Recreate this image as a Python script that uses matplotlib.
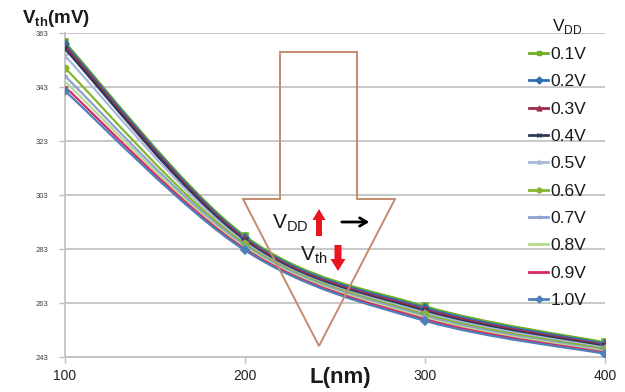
import numpy as np
import matplotlib.pyplot as plt
from matplotlib.path import Path
from matplotlib.patches import PathPatch, Polygon, FancyArrow
from matplotlib.lines import Line2D

plt.rcParams['font.family'] = ['Liberation Sans', 'DejaVu Sans']
plt.rcParams['mathtext.fontset'] = 'custom'
plt.rcParams['mathtext.rm'] = 'Liberation Sans'
plt.rcParams['mathtext.bf'] = 'Liberation Sans:bold'

# channel length (nm)
L = [100, 200, 300, 400]

# threshold voltage (mV) for each VDD
vdd_labels = ['0.1V', '0.2V', '0.3V', '0.4V', '0.5V', '0.6V', '0.7V', '0.8V', '0.9V', '1.0V']
v01 = [359.5, 287.8, 261.8, 248.4]
v02 = [358.8, 287.2, 261.2, 247.9]
v03 = [358.0, 286.6, 260.6, 247.4]
v04 = [357.0, 286.0, 260.0, 246.9]
v05 = [354.5, 285.4, 259.4, 246.4]
v06 = [350.0, 284.8, 258.8, 245.9]
v07 = [347.0, 284.2, 258.2, 245.4]
v08 = [345.0, 283.6, 257.6, 245.0]
v09 = [343.0, 283.0, 257.0, 244.6]
v10 = [341.5, 282.5, 256.4, 244.2]
series = [v01, v02, v03, v04, v05, v06, v07, v08, v09, v10]

colors = ['#6FAE22', '#2F6EB5', '#A02C4C', '#2A3A58', '#A8B8D8',
          '#84B62E', '#8E9ED2', '#B6DA8C', '#D8286A', '#4F7FB8']
markers = ['s', 'D', '^', 'x', '*', 'o', '+', '', '_', 'D']

yticks = [243, 263, 283, 303, 323, 343, 363]
xticks = [100, 200, 300, 400]

W, H = 625, 392


def smooth_path(xs, ys):
    # excel style smoothed line (catmull-rom as bezier)
    pts = np.column_stack([xs, ys]).astype(float)
    n = len(pts)
    verts = [pts[0]]
    codes = [Path.MOVETO]
    for i in range(n - 1):
        p0 = pts[max(i - 1, 0)]
        p1 = pts[i]
        p2 = pts[i + 1]
        p3 = pts[min(i + 2, n - 1)]
        verts += [p1 + (p2 - p0) / 6, p2 - (p3 - p1) / 6, p2]
        codes += [Path.CURVE4] * 3
    return Path(verts, codes)


def main():
    fig = plt.figure(figsize=(W / 100, H / 100), dpi=100)
    ax = fig.add_axes([65 / W, 1 - 357 / H, 540 / W, 324 / H])

    grid_c = '#BFBFBF'
    for i, v in enumerate(series):
        ax.add_patch(PathPatch(smooth_path(L, v), fill=False, ec=colors[i],
                               lw=1.6, zorder=3))
        if markers[i]:
            ax.plot(L, v, ls='none', marker=markers[i], color=colors[i],
                    markersize=4.5, mew=1.2, zorder=4)

    ax.set_xlim(100, 400)
    ax.set_ylim(243, 363)
    ax.set_yticks(yticks)
    ax.set_xticks(xticks)
    ax.yaxis.grid(True, color=grid_c, lw=1.2)
    ax.set_axisbelow(True)
    for s in ['top', 'right']:
        ax.spines[s].set_visible(False)
    ax.spines['left'].set_color(grid_c)
    ax.spines['bottom'].set_color(grid_c)
    ax.spines['left'].set_linewidth(1.2)
    ax.spines['bottom'].set_linewidth(1.2)
    ax.tick_params(axis='y', labelsize=5.5, labelcolor='#404040', color=grid_c,
                   length=4, width=1, pad=8)
    ax.tick_params(axis='x', labelsize=10, labelcolor='#222222', color=grid_c,
                   length=4, width=1, pad=5)

    # overlay in pixel coordinates for the annotations
    ov = fig.add_axes([0, 0, 1, 1])
    ov.set_xlim(0, W)
    ov.set_ylim(H, 0)
    ov.axis('off')
    ov.patch.set_alpha(0)

    big = [(280, 52), (357, 52), (357, 199), (395, 199), (319, 346),
           (243, 199), (280, 199)]
    ov.add_patch(Polygon(big, closed=True, fill=False, ec='#C38B6C', lw=1.4))

    ov.text(272, 223, r'V$_{\mathrm{DD}}$', fontsize=15, color='#1A1A1A',
            ha='left', va='center')
    ov.text(300, 255, r'V$_{\mathrm{th}}$', fontsize=15, color='#1A1A1A',
            ha='left', va='center')
    ov.add_patch(FancyArrow(319, 236, 0, -27, width=6, head_width=13,
                            head_length=11, length_includes_head=True,
                            color='#E8141E', lw=0))
    ov.add_patch(FancyArrow(338, 245, 0, 26, width=7, head_width=15,
                            head_length=12, length_includes_head=True,
                            color='#E8141E', lw=0))
    ov.annotate('', xy=(372, 222), xytext=(339, 222),
                arrowprops=dict(arrowstyle='->,head_length=0.5,head_width=0.3',
                                lw=2, color='black'))

    ov.text(22, 18, r'$\mathbf{V_{th}(mV)}$', fontsize=13.5, color='#1A1A1A',
            ha='left', va='center')
    ov.text(340, 377, 'L(nm)', fontsize=16, fontweight='bold', color='#1A1A1A',
            ha='center', va='center')
    ov.text(552, 26, r'V$_{\mathrm{DD}}$', fontsize=12.5, color='#1A1A1A',
            ha='left', va='center')

    handles = [Line2D([], [], color=colors[i], marker=markers[i] or None, lw=2,
                      markersize=3.5, mew=1) for i in range(len(series))]
    fig.legend(handles, vdd_labels, loc='upper left',
               bbox_to_anchor=(529 / W, 1 - 47 / H), frameon=False,
               fontsize=12.5, handlelength=1.1, handletextpad=0.15,
               labelspacing=0.7, borderaxespad=0, borderpad=0,
               labelcolor='#1A1A1A')

    fig.savefig('out.png', dpi=100)


if __name__ == "__main__":
    main()
